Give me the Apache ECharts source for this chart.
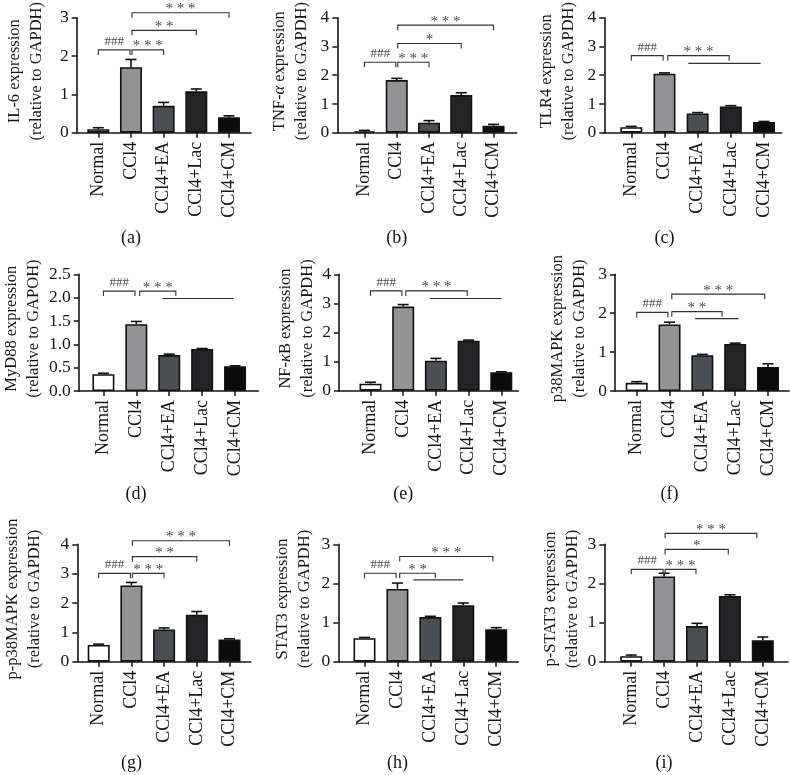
<!DOCTYPE html>
<html><head><meta charset="utf-8">
<script src="https://cdn.jsdelivr.net/npm/echarts@6/dist/echarts.min.js"></script>
<style>html,body{margin:0;padding:0;background:#fff}#c{width:790px;height:775px}</style>
</head><body><div id="c"></div>
<script>
// ---------- data ----------
const categories = ['Normal', 'CCl4', 'CCl4+EA', 'CCl4+Lac', 'CCl4+CM'];

const il6Mean = [0.09, 1.71, 0.70, 1.08, 0.40];
const il6Sem  = [0.04, 0.20, 0.09, 0.06, 0.04];
const il6Ticks = ['0', '1', '2', '3'];
const il6Sig = [[1, 1.97, 2.16, '###', 1], [2.03, 3, 2.16, '* * *', 1], [2.03, 4, 2.67, '* *', 1], [2.03, 5, 3.13, '* * *', 1]];

const tnfMean = [0.05, 1.83, 0.35, 1.31, 0.24];
const tnfSem  = [0.03, 0.06, 0.07, 0.08, 0.05];
const tnfTicks = ['0', '1', '2', '3', '4'];
const tnfSig = [[1, 1.97, 2.45, '###', 1], [2.03, 3, 2.45, '* * *', 1], [2.03, 4, 3.10, '*', 1], [2.03, 5, 3.74, '* * *', 1]];

const tlr4Mean = [0.19, 2.05, 0.67, 0.91, 0.37];
const tlr4Sem  = [0.03, 0.03, 0.03, 0.03, 0.02];
const tlr4Ticks = ['0', '1', '2', '3', '4'];
const tlr4Sig = [[1, 1.96, 2.68, '###', 1], [2.1, 3.95, 2.68, '* * *', 1], [2.72, 4.9, 2.41, '', 0]];

const myd88Mean = [0.36, 1.43, 0.77, 0.90, 0.53];
const myd88Sem  = [0.02, 0.06, 0.02, 0.01, 0.01];
const myd88Ticks = ['0.0', '0.5', '1.0', '1.5', '2.0', '2.5'];
const myd88Sig = [[1, 1.96, 2.14, '###', 1], [2.1, 3.2, 2.14, '* * *', 1], [2.8, 4.95, 1.98, '', 0]];

const nfkbMean = [0.24, 2.89, 1.03, 1.72, 0.63];
const nfkbSem  = [0.05, 0.07, 0.08, 0.02, 0.02];
const nfkbTicks = ['0', '1', '2', '3', '4'];
const nfkbSig = [[1, 1.96, 3.43, '###', 1], [2.08, 3.96, 3.43, '* * *', 1], [2.82, 5.0, 3.17, '', 0]];

const p38Mean = [0.21, 1.71, 0.92, 1.21, 0.62];
const p38Sem  = [0.03, 0.06, 0.02, 0.02, 0.08];
const p38Ticks = ['0', '1', '2', '3'];
const p38Sig = [[1, 1.95, 2.02, '###', 1], [2.07, 3.6, 2.04, '* *', 1], [2.78, 4.1, 1.86, '', 0], [2.07, 4.9, 2.49, '* * *', 1]];

const pp38Mean = [0.57, 2.60, 1.10, 1.60, 0.76];
const pp38Sem  = [0.03, 0.10, 0.05, 0.11, 0.02];
const pp38Ticks = ['0', '1', '2', '3', '4'];
const pp38Sig = [[1, 1.97, 3.01, '###', 1], [2.03, 3, 3.01, '* * *', 1], [2.03, 4, 3.58, '* *', 1], [2.03, 5, 4.12, '* * *', 1]];

const stat3Mean = [0.60, 1.86, 1.14, 1.44, 0.83];
const stat3Sem  = [0.02, 0.15, 0.02, 0.06, 0.04];
const stat3Ticks = ['0', '1', '2', '3'];
const stat3Sig = [[1, 1.96, 2.26, '###', 1], [2.07, 3.15, 2.26, '* *', 1], [2.48, 4.0, 2.09, '', 0], [2.07, 4.9, 2.69, '* * *', 1]];

const pstat3Mean = [0.14, 2.18, 0.91, 1.68, 0.55];
const pstat3Sem  = [0.03, 0.08, 0.07, 0.03, 0.08];
const pstat3Ticks = ['0', '1', '2', '3'];
const pstat3Sig = [[1, 1.97, 2.36, '###', 1], [2.03, 2.97, 2.36, '* * *', 1], [2.03, 3.95, 2.87, '*', 1], [2.03, 4.82, 3.28, '* * *', 1]];

// axis titles (rich-text markup for italic Greek letters) and panel letters
const yTitles = [
  ['{n|IL-6 expression}', '{n|(relative to GAPDH)}'],
  ['{n|TNF-}{i|α}{n| expression}', '{n|(relative to GAPDH)}'],
  ['{n|TLR4 expression}', '{n|(relative to GAPDH)}'],
  ['{n|MyD88 expression}', '{n|(relative to GAPOH)}'],
  ['{n|NF-}{i|κ}{n|B expression}', '{n|(relative to GAPDH)}'],
  ['{n|p38MAPK expression}', '{n|(relative to GAPDH)}'],
  ['{n|p-p38MAPK expression}', '{n|(relative to GAPDH)}'],
  ['{n|STAT3 expression}', '{n|(relative to GAPDH)}'],
  ['{n|p-STAT3 expression}', '{n|(relative to GAPDH)}']
];
const panelLetters = ['(a)', '(b)', '(c)', '(d)', '(e)', '(f)', '(g)', '(h)', '(i)'];

const panelData = [
  [il6Mean, il6Sem, il6Ticks, il6Sig],
  [tnfMean, tnfSem, tnfTicks, tnfSig],
  [tlr4Mean, tlr4Sem, tlr4Ticks, tlr4Sig],
  [myd88Mean, myd88Sem, myd88Ticks, myd88Sig],
  [nfkbMean, nfkbSem, nfkbTicks, nfkbSig],
  [p38Mean, p38Sem, p38Ticks, p38Sig],
  [pp38Mean, pp38Sem, pp38Ticks, pp38Sig],
  [stat3Mean, stat3Sem, stat3Ticks, stat3Sig],
  [pstat3Mean, pstat3Sem, pstat3Ticks, pstat3Sig]
];

// ---------- layout (pixels) & styles ----------
const layout = [
  {L: 76.7,  T: 16.7,  R: 251,   B: 132.7, c1: 98.3,  c5: 229,   gap: 29,   ly: 238},
  {L: 337.3, T: 16.7,  R: 516.7, B: 132.7, c1: 364.5, c5: 493.5, gap: 24.6, ly: 238},
  {L: 604.3, T: 16.7,  R: 781.7, B: 132.7, c1: 631.3, c5: 764,   gap: 25,   ly: 238},
  {L: 78.3,  T: 274.3, R: 258.3, B: 391,   c1: 103,   c5: 235,   gap: 30.6, ly: 494},
  {L: 339,   T: 274.3, R: 518.3, B: 390.7, c1: 370.5, c5: 501.3, gap: 19.7, ly: 494},
  {L: 615,   T: 274.3, R: 789,   B: 391,   c1: 636.7, c5: 768,   gap: 24,   ly: 494},
  {L: 77.3,  T: 544.3, R: 250.7, B: 661.7, c1: 98.7,  c5: 229.5, gap: 31.3, ly: 763},
  {L: 338.3, T: 544.3, R: 518.3, B: 661.7, c1: 364.5, c5: 496.2, gap: 22.3, ly: 763},
  {L: 604.3, T: 544.3, R: 788,   B: 661.7, c1: 631.2, c5: 762.8, gap: 20,   ly: 763}
];
const barColors = ['#ffffff', '#939395', '#4b4e52', '#242426', '#0b0b0b'];
const FONT = '"Liberation Serif", "Times New Roman", serif';
const INK = '#161616';

const grids = [], xAxes = [], yAxes = [], series = [], graphics = [];

panelData.forEach(([mean, sem, ticks, sig], k) => {
  const g = layout[k];
  const sp = (g.c5 - g.c1) / 4;
  const xmin = 1 - (g.c1 - g.L) / sp;
  const xmax = 5 + (g.R - g.c5) / sp;
  const yTickVals = ticks.map(Number);
  const ymax = yTickVals[yTickVals.length - 1];
  const yint = yTickVals[1] - yTickVals[0];

  grids.push({left: g.L, top: g.T, width: g.R - g.L, height: g.B - g.T, containLabel: false});

  xAxes.push({
    type: 'value', gridIndex: k, min: xmin, max: xmax,
    axisLine: {show: true, onZero: false, lineStyle: {color: INK, width: 1.6}},
    axisTick: {show: true, customValues: [1, 2, 3, 4, 5], length: 5, inside: false, lineStyle: {color: INK, width: 1.5}},
    axisLabel: {
      show: true, customValues: [1, 2, 3, 4, 5], rotate: 90, margin: 9,
      formatter: v => categories[Math.round(v) - 1] || '',
      fontFamily: FONT, fontSize: 18, color: INK
    },
    splitLine: {show: false}
  });

  yAxes.push({
    type: 'value', gridIndex: k, min: 0, max: ymax, interval: yint,
    axisLine: {show: true, lineStyle: {color: INK, width: 1.6}},
    axisTick: {show: true, length: 5, inside: false, lineStyle: {color: INK, width: 1.5}},
    axisLabel: {
      margin: 8, fontFamily: FONT, fontSize: 17.5, color: INK,
      formatter: v => { const i = yTickVals.findIndex(t => Math.abs(t - v) < 1e-6); return i >= 0 ? ticks[i] : ''; }
    },
    splitLine: {show: false},
    name: yTitles[k].join('\n'),
    nameLocation: 'middle', nameRotate: 90, nameGap: g.gap,
    nameTextStyle: {
      fontFamily: FONT, fontSize: 16.5, color: INK, lineHeight: 22, padding: [0, 0, 0, 8],
      rich: {
        n: {fontFamily: FONT, fontSize: 16.5, color: INK, lineHeight: 22},
        i: {fontFamily: FONT, fontSize: 16.5, color: INK, lineHeight: 22, fontStyle: 'italic'}
      }
    }
  });

  series.push({
    type: 'bar', xAxisIndex: k, yAxisIndex: k, barWidth: 22, z: 2,
    itemStyle: {borderColor: '#111', borderWidth: 1.6},
    data: mean.map((v, i) => ({value: [i + 1, v], itemStyle: {color: barColors[i]}})),
    silent: true
  });

  series.push({
    type: 'custom', xAxisIndex: k, yAxisIndex: k, z: 3, silent: true,
    encode: {x: 0, y: 1},
    data: mean.map((v, i) => [i + 1, v, sem[i]]),
    renderItem: (params, api) => {
      const x = api.value(0), m = api.value(1), s = api.value(2);
      const p0 = api.coord([x, m]), p1 = api.coord([x, m + s]);
      const st = {stroke: '#111', lineWidth: 1.6};
      return {type: 'group', children: [
        {type: 'line', shape: {x1: p0[0], y1: p0[1], x2: p1[0], y2: p1[1]}, style: st},
        {type: 'line', shape: {x1: p1[0] - 5.5, y1: p1[1], x2: p1[0] + 5.5, y2: p1[1]}, style: st}
      ]};
    }
  });

  const sigLabels = sig.map(s => s[3]);
  series.push({
    type: 'custom', xAxisIndex: k, yAxisIndex: k, z: 4, silent: true, clip: false,
    encode: {x: 0, y: 2},
    data: sig.map(s => [s[0], s[1], s[2], s[4]]),
    renderItem: (params, api) => {
      const x1 = api.value(0), x2 = api.value(1), y = api.value(2), legs = api.value(3);
      const a = api.coord([x1, y]), b = api.coord([x2, y]);
      const pts = legs ? [[a[0], a[1] + 5], [a[0], a[1]], [b[0], b[1]], [b[0], b[1] + 5]] : [a, b];
      const children = [{type: 'polyline', shape: {points: pts}, style: {stroke: '#333', lineWidth: 1.1, fill: null}}];
      const lab = sigLabels[params.dataIndex];
      if (lab) {
        const isHash = lab.indexOf('#') >= 0;
        children.push({type: 'text', x: (a[0] + b[0]) / 2, y: a[1] - (isHash ? 2 : -4),
          style: {text: lab, align: 'center', verticalAlign: 'bottom',
            font: (isHash ? '13px ' : '15px ') + FONT, fill: '#4a4a4a'}});
      }
      return {type: 'group', children};
    }
  });

  graphics.push({type: 'text', x: g.c1 + sp, y: g.ly,
    style: {text: panelLetters[k], align: 'center', verticalAlign: 'middle', font: '18px ' + FONT, fill: INK}});
});

const chart = echarts.init(document.getElementById('c'), null, {renderer: 'canvas'});
chart.setOption({
  animation: false,
  backgroundColor: '#ffffff',
  grid: grids, xAxis: xAxes, yAxis: yAxes, series: series,
  graphic: graphics
});
</script></body></html>
